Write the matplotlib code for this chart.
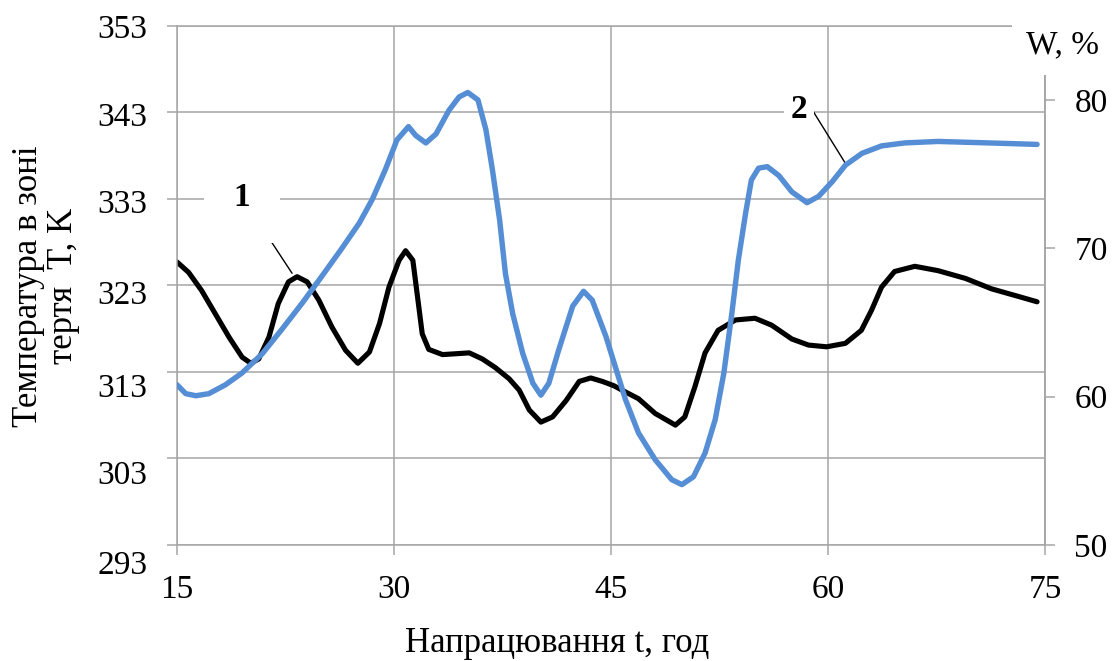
import matplotlib
matplotlib.use("Agg")
import matplotlib.pyplot as plt
from matplotlib.transforms import ScaledTranslation

plt.rcParams["font.family"] = ["Liberation Serif", "DejaVu Serif"]

# curve 1: friction zone temperature T, K (left axis)
t_temp = [15.0, 15.8, 16.7, 17.65, 18.6, 19.5, 20.1, 20.65, 21.35, 22.0,
          22.7, 23.3, 24.0, 24.8, 25.7, 26.65, 27.5, 28.3, 29.0, 29.65,
          30.35, 30.8, 31.3, 31.6, 31.95, 32.4, 33.35, 34.3, 35.2, 36.1,
          37.0, 37.96, 38.65, 39.35, 40.15, 40.96, 41.9, 42.8, 43.6, 44.4,
          45.2, 45.75, 46.9, 48.05, 49.45, 50.1, 50.8, 51.5, 52.4, 53.6,
          54.95, 56.1, 57.5, 58.65, 59.9, 61.2, 62.3, 63.0, 63.7, 64.6,
          66.0, 67.6, 69.5, 71.3, 73.2, 74.45]
temp = [325.7, 324.5, 322.4, 319.7, 317.0, 314.7, 314.0, 314.5, 317.0, 320.9,
        323.4, 324.0, 323.4, 321.3, 318.2, 315.5, 314.0, 315.3, 318.6, 322.8,
        325.9, 327.0, 325.9, 322.0, 317.4, 315.6, 315.0, 315.1, 315.2, 314.5,
        313.5, 312.2, 310.9, 308.6, 307.2, 307.8, 309.7, 311.9, 312.3, 311.9,
        311.4, 310.9, 309.9, 308.2, 306.85, 307.8, 311.3, 315.2, 317.8, 319.0,
        319.2, 318.4, 316.8, 316.1, 315.9, 316.3, 317.8, 320.1, 322.8, 324.6,
        325.2, 324.7, 323.8, 322.6, 321.7, 321.1]

# curve 2: W, % (right axis)
t_w = [15.0, 15.6, 16.3, 17.2, 18.35, 19.5, 20.9, 22.3, 23.65, 25.0, 26.4,
       27.6, 28.5, 29.4, 30.2, 31.0, 31.5, 32.2, 32.9, 33.8, 34.5, 35.1,
       35.8, 36.35, 36.8, 37.3, 37.7, 38.2, 38.9, 39.6, 40.15, 40.7, 41.4,
       42.35, 43.1, 43.7, 44.65, 45.3, 46.0, 46.9, 48.05, 49.2, 49.9, 50.7,
       51.5, 52.2, 52.8, 53.35, 53.8, 54.3, 54.7, 55.2, 55.8, 56.6, 57.5,
       58.55, 59.35, 60.3, 61.2, 62.35, 63.7, 65.3, 67.6, 71.1, 74.45]
w = [60.8, 60.2, 60.06, 60.2, 60.8, 61.6, 62.9, 64.6, 66.3, 68.1, 70.0,
     71.7, 73.3, 75.3, 77.3, 78.2, 77.6, 77.1, 77.7, 79.3, 80.2, 80.5,
     80.0, 78.0, 75.3, 71.9, 68.3, 65.6, 62.9, 60.9, 60.1, 60.9, 63.2,
     66.1, 67.1, 66.5, 64.05, 62.0, 59.8, 57.55, 55.75, 54.4, 54.07, 54.6,
     56.2, 58.45, 61.6, 65.6, 69.2, 72.35, 74.6, 75.4, 75.5, 74.9, 73.8,
     73.07, 73.5, 74.5, 75.6, 76.4, 76.9, 77.1, 77.2, 77.1, 77.0]

x_ticks = [15, 30, 45, 60, 75]
t_ticks = [293, 303, 313, 323, 333, 343, 353]
w_ticks = [50, 60, 70, 80]

GRID = "#a6a6a6"
BLUE = "#558ed5"


def main():
    fig = plt.figure(figsize=(11.19, 6.61), dpi=100)
    ax = fig.add_axes([0.1582, 0.1755, 0.7757, 0.7856])

    ax.set_xlim(15, 75)
    ax.set_ylim(293, 353)
    ax.set_xticks(x_ticks)
    ax.set_yticks(t_ticks)
    ax.grid(True, color=GRID, lw=1.1)
    ax.set_axisbelow(True)
    ax.tick_params(direction="out", length=7.2, width=1.1, color=GRID,
                   labelsize=24, pad=14)
    for sp in ax.spines.values():
        sp.set_color(GRID)
        sp.set_linewidth(1.1)

    # labels on the left axis sit a little lower than their grid lines
    shifts = [17, 14, 13, 7, 2, 2, 1]
    for lab, dy in zip(ax.get_yticklabels(), shifts):
        lab.set_transform(lab.get_transform()
                          + ScaledTranslation(0, -dy / 100, fig.dpi_scale_trans))

    ax.plot(t_temp, temp, color="black", lw=3.7, solid_joinstyle="round",
            solid_capstyle="round")

    ax2 = ax.twinx()
    ax2.set_ylim(50, 85)
    ax2.set_yticks(w_ticks)
    ax2.tick_params(direction="out", length=7.2, width=1.1, color=GRID,
                    labelsize=24, pad=14)
    for name, sp in ax2.spines.items():
        sp.set_visible(name == "right")
        sp.set_color(GRID)
        sp.set_linewidth(1.1)
    ax2.plot(t_w, w, color=BLUE, lw=3.9, solid_joinstyle="round",
             solid_capstyle="round")

    # curve labels with leader lines
    ax.text(19.5, 333.1, "1", fontsize=24, fontweight="bold", ha="center",
            va="center", zorder=5,
            bbox=dict(fc="white", ec="none", boxstyle="square,pad=0.9"))
    ax.annotate("", xy=(22.95, 324.4), xytext=(20.67, 330.2),
                arrowprops=dict(arrowstyle="-", lw=1, color="black",
                                shrinkA=0, shrinkB=0))
    ax.text(58.0, 343.3, "2", fontsize=24, fontweight="bold", ha="center",
            va="center", zorder=5,
            bbox=dict(fc="white", ec="none", boxstyle="square,pad=0.2"))
    ax.annotate("", xy=(61.2, 337.1), xytext=(58.9, 343.3),
                arrowprops=dict(arrowstyle="-", lw=1, color="black",
                                shrinkA=0, shrinkB=0))

    fig.text(1063 / 1119, 1 - 45 / 661, "W, %", fontsize=24, ha="center",
             va="center", zorder=10,
             bbox=dict(fc="white", ec="none", boxstyle="square,pad=0.45"))
    fig.text(46 / 1119, 1 - 286 / 661, "Температура в зоні\nтертя  T, K",
             fontsize=25, rotation=90, ha="center", va="center",
             multialignment="center", linespacing=1.1)
    fig.text(557 / 1119, 1 - 643 / 661, "Напрацювання t, год", fontsize=25,
             ha="center", va="center")

    fig.savefig("out.png", dpi=100)


if __name__ == "__main__":
    main()
